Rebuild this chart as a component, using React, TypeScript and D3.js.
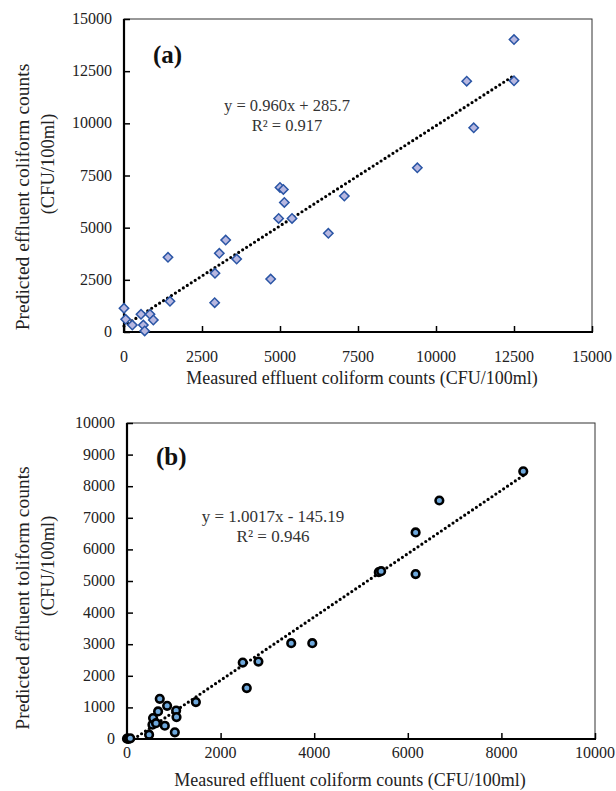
import React, { useEffect, useRef } from 'react';
import * as d3 from 'd3';

// Measured vs predicted effluent coliform counts, panels (a) and (b)

const measuredA = [0, 53, 267, 545, 620, 663, 833, 940, 1410, 1474, 2906, 2916, 3055, 3259, 3611, 4701, 4957, 5000, 5107, 5139, 5385, 6549, 7062, 9402, 10984, 11208, 12500, 12500];
const predictedA = [1135, 608, 335, 848, 335, 50, 848, 575, 3577, 1470, 1403, 2811, 3769, 4406, 3496, 2538, 5445, 6930, 6834, 6211, 5445, 4727, 6513, 7870, 12021, 9785, 14017, 12036];
const ticksA = [0, 2500, 5000, 7500, 10000, 12500, 15000];

const measuredB = [0, 30, 70, 472, 544, 557, 620, 664, 700, 808, 857, 1022, 1050, 1058, 1472, 2473, 2559, 2808, 3509, 3959, 5380, 5430, 6167, 6167, 6674, 8467];
const predictedB = [10, 0, 20, 136, 452, 663, 500, 872, 1272, 420, 1051, 210, 900, 694, 1168, 2419, 1610, 2450, 3031, 3031, 5280, 5310, 6536, 5220, 7547, 8472];
const ticksB = [0, 1000, 2000, 3000, 4000, 5000, 6000, 7000, 8000, 9000, 10000];
const xTicksB = [0, 2000, 4000, 6000, 8000, 10000];

const font = '"Liberation Serif", "Times New Roman", serif';

const App = () => {
  const svgRef = useRef(null);

  useEffect(() => {
    const svg = d3.select(svgRef.current);
    svg.selectAll('*').remove();

    const drawPanel = (opt) => {
      const x = d3.scaleLinear().domain([0, opt.xMax]).range([opt.left, opt.right]);
      const y = d3.scaleLinear().domain([0, opt.yMax]).range([opt.bottom, opt.top]);
      const g = svg.append('g');

      // frame: thin top/right
      g.append('rect')
        .attr('x', opt.left).attr('y', opt.top)
        .attr('width', opt.right - opt.left).attr('height', opt.bottom - opt.top)
        .attr('fill', 'none').attr('stroke', '#333').attr('stroke-width', 1);

      // axes (inward ticks)
      const xAxis = g.append('g')
        .attr('transform', `translate(0, ${opt.bottom})`)
        .call(d3.axisTop(x).tickValues(opt.xTicks).tickSize(6).tickFormat(() => ''));
      const yAxis = g.append('g')
        .attr('transform', `translate(${opt.left}, 0)`)
        .call(d3.axisRight(y).tickValues(opt.yTicks).tickSize(6).tickFormat(() => ''));
      [xAxis, yAxis].forEach(a => {
        a.select('.domain').remove();
        a.selectAll('line').attr('stroke', '#000').attr('stroke-width', 1.5);
      });
      g.append('line').attr('x1', opt.left).attr('x2', opt.right + 1)
        .attr('y1', opt.bottom).attr('y2', opt.bottom)
        .attr('stroke', '#000').attr('stroke-width', 2.2);
      g.append('line').attr('x1', opt.left).attr('x2', opt.left)
        .attr('y1', opt.top).attr('y2', opt.bottom + 1)
        .attr('stroke', '#000').attr('stroke-width', 2.2);

      // tick labels
      g.selectAll('.xl').data(opt.xTicks).enter().append('text')
        .attr('x', d => x(d)).attr('y', opt.bottom + opt.xLabDy)
        .attr('text-anchor', 'middle').attr('font-family', font).attr('font-size', 16)
        .attr('fill', '#222').text(d => d);
      g.selectAll('.yl').data(opt.yTicks).enter().append('text')
        .attr('x', opt.left - 12).attr('y', d => y(d) + 5)
        .attr('text-anchor', 'end').attr('font-family', font).attr('font-size', 16)
        .attr('fill', '#222').text(d => d);

      // axis titles
      g.append('text').attr('x', opt.xTitleX).attr('y', opt.bottom + opt.xTitleDy)
        .attr('text-anchor', 'middle').attr('font-family', font).attr('font-size', 18)
        .attr('fill', '#222').text('Measured effluent coliform counts (CFU/100ml)');
      g.append('text').attr('transform', `translate(29, ${opt.yTitleY1}) rotate(-90)`)
        .attr('text-anchor', 'middle').attr('font-family', font).attr('font-size', 19.5)
        .attr('fill', '#222').text(opt.yTitle);
      g.append('text').attr('transform', `translate(54, ${opt.yTitleY2}) rotate(-90)`)
        .attr('text-anchor', 'middle').attr('font-family', font).attr('font-size', 18.5)
        .attr('fill', '#222').text('(CFU/100ml)');

      // panel letter
      g.append('text').attr('x', opt.left + 29).attr('y', opt.top + opt.letterDy)
        .attr('font-family', font).attr('font-size', 25).attr('font-weight', 'bold')
        .attr('fill', '#111').text(opt.letter);

      // trend line
      const xs = opt.xs, ys = opt.ys;
      const x0 = Math.max(d3.min(xs), -opt.b / opt.m);
      const x1 = d3.max(xs);
      g.append('path')
        .attr('d', d3.line().x(d => x(d)).y(d => y(opt.m * d + opt.b))([x0, x1]))
        .attr('stroke', '#000').attr('stroke-width', 3.2).attr('stroke-linecap', 'round')
        .attr('stroke-dasharray', '0 4.7').attr('fill', 'none');

      // equation
      g.append('text').attr('x', opt.eqX).attr('y', opt.eqY)
        .attr('text-anchor', 'middle').attr('font-family', font).attr('font-size', opt.eqSize)
        .attr('fill', '#333').text(opt.eq);
      g.append('text').attr('x', opt.eqX).attr('y', opt.eqY + 20)
        .attr('text-anchor', 'middle').attr('font-family', font).attr('font-size', opt.eqSize)
        .attr('fill', '#333').text(opt.r2);

      // markers
      const pts = xs.map((d, i) => [d, ys[i]]);
      if (opt.shape === 'diamond') {
        g.selectAll('.pt').data(pts).enter().append('path')
          .attr('d', d3.symbol(d3.symbolSquare, 44)())
          .attr('transform', d => `translate(${x(d[0])}, ${y(d[1])}) rotate(45)`)
          .attr('fill', '#b7b7e0').attr('stroke', '#2a55a5').attr('stroke-width', 1.5);
      } else {
        g.selectAll('.pt').data(pts).enter().append('circle')
          .attr('cx', d => x(d[0])).attr('cy', d => y(d[1])).attr('r', 3.8)
          .attr('fill', '#6ea8dc').attr('stroke', '#000').attr('stroke-width', 2.6);
      }
    };

    drawPanel({
      left: 124, right: 592, top: 19, bottom: 332,
      xMax: 15000, yMax: 15000, xTicks: ticksA, yTicks: ticksA,
      xs: measuredA, ys: predictedA, m: 0.96, b: 285.7,
      eq: 'y = 0.960x + 285.7', r2: 'R² = 0.917', eqX: 287, eqY: 111, eqSize: 16.5,
      letter: '(a)', letterDy: 44, shape: 'diamond',
      yTitle: 'Predicted effluent coliform counts', yTitleY1: 197, yTitleY2: 164,
      xTitleX: 362, xLabDy: 30, xTitleDy: 52,
    });

    drawPanel({
      left: 127, right: 595, top: 423, bottom: 739,
      xMax: 10000, yMax: 10000, xTicks: xTicksB, yTicks: ticksB,
      xs: measuredB, ys: predictedB, m: 1.0017, b: -145.19,
      eq: 'y = 1.0017x - 145.19', r2: 'R² = 0.946', eqX: 273, eqY: 522, eqSize: 17,
      letter: '(b)', letterDy: 42, shape: 'circle',
      yTitle: 'Predicted effluent toliform counts', yTitleY1: 598, yTitleY2: 566,
      xTitleX: 350, xLabDy: 19, xTitleDy: 47,
    });
  }, []);

  return (
    <svg
      ref={svgRef}
      width="616"
      height="791"
      style={{ position: 'absolute', left: 0, top: 0, background: '#fff' }}
    />
  );
};

export default App;
